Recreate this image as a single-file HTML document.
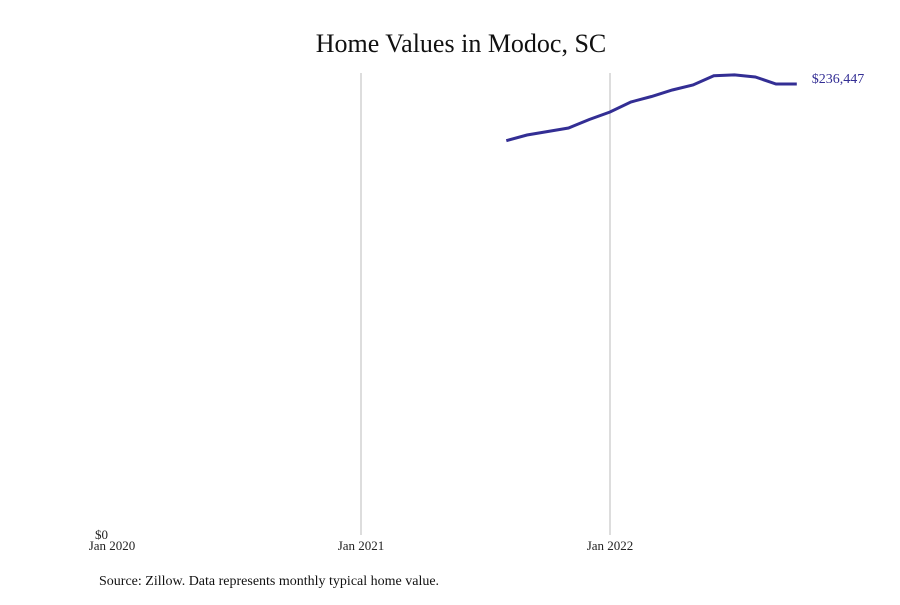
<!DOCTYPE html>
<html><head><meta charset="utf-8"><style>
body{margin:0;background:#fff;width:900px;height:600px;overflow:hidden;font-family:"Liberation Serif",serif}
</style></head><body>
<svg id="chart" width="900" height="600" xmlns="http://www.w3.org/2000/svg">
<text x="461" y="52" text-anchor="middle" font-size="26" fill="#111">Home Values in Modoc, SC</text>
<g id="grid"></g><g id="xt"></g>
<text x="108" y="539" text-anchor="end" font-size="13" fill="#222">$0</text>
<path id="line" fill="none" stroke="#332e94" stroke-width="3"/>
<text id="endlabel" font-size="14" fill="#332e94"></text>
<text x="99" y="585" font-size="14" fill="#111">Source: Zillow. Data represents monthly typical home value.</text>
</svg>
<script>
const months=[19,20,21,22,23,24,25,26,27,28,29,30,31,32,33];
const values=[206700,209700,211550,213400,217850,221780,227020,229900,233300,235900,240800,241200,240100,236450,236447];
const tickMonths=[0,12,24];
const tickLabels=["Jan 2020","Jan 2021","Jan 2022"];
const xs=m=>112+m*(610-112)/24;
const ys=v=>535-v*(535-84)/236447;
const ns="http://www.w3.org/2000/svg";
const g=document.getElementById('grid'),xt=document.getElementById('xt');
tickMonths.forEach((m,i)=>{
 if(i>0){const l=document.createElementNS(ns,'line');
 l.setAttribute('x1',xs(m));l.setAttribute('x2',xs(m));l.setAttribute('y1',73);l.setAttribute('y2',535);
 l.setAttribute('stroke','#bbb');l.setAttribute('stroke-width','1');
 
 
 g.appendChild(l);}
 const t=document.createElementNS(ns,'text');
 t.setAttribute('x',xs(m));t.setAttribute('y',550);t.setAttribute('text-anchor','middle');
 t.setAttribute('font-size','13');t.setAttribute('fill','#222');t.textContent=tickLabels[i];
 
 
 xt.appendChild(t);
});
document.getElementById('line').setAttribute('d',months.map((m,i)=>(i?'L':'M')+xs(m).toFixed(1)+','+ys(values[i]).toFixed(1)).join(''));
const el=document.getElementById('endlabel');const n=values.length-1;
el.setAttribute('x',xs(months[n])+15);el.setAttribute('y',ys(values[n])-1);
el.textContent='$'+values[n].toLocaleString('en-US');
</script>
</body></html>
